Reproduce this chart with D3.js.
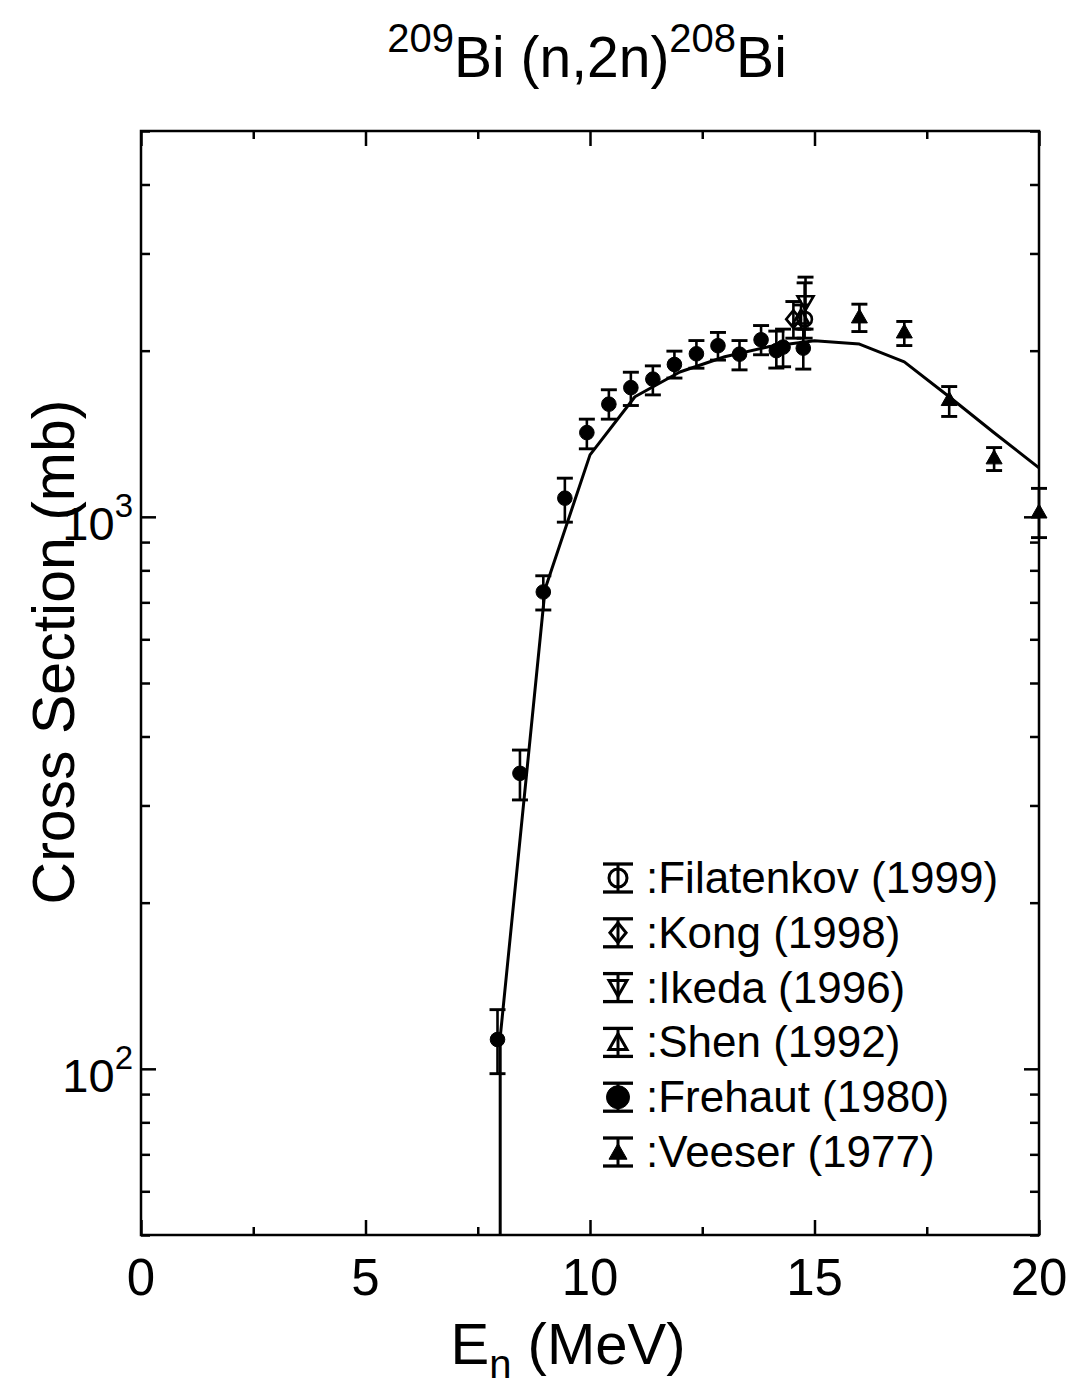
<!DOCTYPE html>
<html><head><meta charset="utf-8">
<script src="https://cdn.jsdelivr.net/npm/d3@7"></script>
<style>body{margin:0;background:#fff}text{font-family:"Liberation Sans",Arial,sans-serif;fill:#000}</style>
</head><body><svg id="c" width="1087" height="1387"></svg>
<script>
// ---- data ----
const curveE  = [8.0, 8.0, 9.0, 10.0, 11.0, 12.0, 13.0, 14.0, 15.0, 16.0, 17.0, 18.0, 19.0, 20.0];
const curveXS = [0.001, 114, 740, 1295, 1650, 1830, 1950, 2035, 2085, 2056, 1909, 1650, 1420, 1227];

const frehautE  = [7.94, 8.44, 8.96, 9.44, 9.93, 10.42, 10.91, 11.40, 11.88, 12.37, 12.85, 13.33, 13.81, 14.15, 14.30, 14.75];
const frehautXS = [113, 343, 731, 1081, 1421, 1600, 1714, 1776, 1888, 1974, 2042, 1971, 2093, 2000, 2030, 2021];
const frehautLo = [98, 307, 678, 978, 1328, 1503, 1591, 1663, 1784, 1859, 1923, 1846, 1966, 1860, 1870, 1852];
const frehautHi = [128, 378, 782, 1175, 1503, 1699, 1828, 1877, 1996, 2086, 2158, 2086, 2221, 2170, 2188, 2188];

const veeserE  = [16.0, 17.0, 18.0, 19.0, 20.0];
const veeserXS = [2306, 2166, 1634, 1281, 1022];
const veeserLo = [2166, 2043, 1520, 1213, 917];
const veeserHi = [2428, 2259, 1722, 1335, 1126];

const filatenkovE = [14.78], filatenkovXS = [2281], filatenkovLo = [2107], filatenkovHi = [2654];
const kongE = [14.53], kongXS = [2281], kongLo = [2107], kongHi = [2455];
const ikedaE = [14.8], ikedaXS = [2444], ikedaLo = [2188], ikedaHi = [2718];
const shenE = [14.7], shenXS = [2300], shenLo = [2190], shenHi = [2420];

const legendLabels = [":Filatenkov (1999)", ":Kong (1998)", ":Ikeda (1996)", ":Shen (1992)", ":Frehaut (1980)", ":Veeser (1977)"];
const legendSymbols = ["circleOpen", "diamondOpen", "triDownOpen", "triUpOpen", "circleFilled", "triUpFilled"];
const xMajorTicks = [0, 5, 10, 15, 20];
const xMinorTicks = [2.5, 7.5, 12.5, 17.5];
const yMajorTicks = [100, 1000];
const yMinorTicks = [50,60,70,80,90,200,300,400,500,600,700,800,900,2000,3000,4000,5000];
const yTickLabels = [["10","2"],["10","3"]];

// ---- drawing ----
const svg = d3.select("#c");
const x = d3.scaleLinear().domain([0,20]).range([141,1039]);
const y = d3.scaleLog().domain([50,5000]).range([1235,131]);
const [X0,X1] = x.range(), [Y1,Y0] = y.range();

svg.append("defs").append("clipPath").attr("id","clip")
  .append("rect").attr("x",X0).attr("y",Y0).attr("width",X1-X0).attr("height",Y1-Y0);

function styleAxis(g){ g.select(".domain").remove(); g.selectAll("line").attr("stroke","#000").attr("stroke-width",2.5); g.selectAll("text").remove(); }
svg.append("g").attr("transform",`translate(0,${Y1})`).call(d3.axisBottom(x).tickValues(xMajorTicks).tickSize(-15)).call(styleAxis);
svg.append("g").attr("transform",`translate(0,${Y1})`).call(d3.axisBottom(x).tickValues(xMinorTicks).tickSize(-8)).call(styleAxis);
svg.append("g").attr("transform",`translate(0,${Y0})`).call(d3.axisTop(x).tickValues(xMajorTicks).tickSize(-15)).call(styleAxis);
svg.append("g").attr("transform",`translate(0,${Y0})`).call(d3.axisTop(x).tickValues(xMinorTicks).tickSize(-8)).call(styleAxis);
svg.append("g").attr("transform",`translate(${X0},0)`).call(d3.axisLeft(y).tickValues(yMajorTicks).tickSize(-15)).call(styleAxis);
svg.append("g").attr("transform",`translate(${X0},0)`).call(d3.axisLeft(y).tickValues(yMinorTicks).tickSize(-9)).call(styleAxis);
svg.append("g").attr("transform",`translate(${X1},0)`).call(d3.axisRight(y).tickValues(yMajorTicks).tickSize(-15)).call(styleAxis);
svg.append("g").attr("transform",`translate(${X1},0)`).call(d3.axisRight(y).tickValues(yMinorTicks).tickSize(-9)).call(styleAxis);

svg.append("rect").attr("x",X0).attr("y",Y0).attr("width",X1-X0).attr("height",Y1-Y0)
  .attr("fill","none").attr("stroke","#000").attr("stroke-width",2.5);

// tick labels
svg.append("g").selectAll("text").data(xMajorTicks).join("text")
  .attr("x",d=>x(d)).attr("y",Y1+60).attr("text-anchor","middle").attr("font-size",51).text(d=>d);
const yl = svg.append("g").selectAll("text").data(yMajorTicks).join("text")
  .attr("x",X0-8).attr("y",d=>y(d)+23).attr("text-anchor","end").attr("font-size",47);
yl.append("tspan").text((d,i)=>yTickLabels[i][0]);
yl.append("tspan").attr("dy",-23).attr("font-size",33).text((d,i)=>yTickLabels[i][1]);

// curve
const line = d3.line().x(d=>x(d[0])).y(d=>y(Math.max(d[1],1)));
svg.append("path").datum(curveE.map((e,i)=>[e,curveXS[i]])).attr("clip-path","url(#clip)")
  .attr("d",line).attr("fill","none").attr("stroke","#000").attr("stroke-width",3).attr("stroke-linejoin","round");

// markers
function marker(g, type, cx, cy, s, sw){
  const open = type.endsWith("Open");
  let el;
  if(type.startsWith("circle")) el = g.append("circle").attr("cx",cx).attr("cy",cy).attr("r",s);
  else if(type.startsWith("diamond")) el = g.append("path").attr("d",`M${cx},${cy-s*1.1}L${cx+s*0.9},${cy}L${cx},${cy+s*1.1}L${cx-s*0.9},${cy}Z`);
  else if(type.startsWith("triDown")) el = g.append("path").attr("d",`M${cx-s},${cy-s*0.8}L${cx+s},${cy-s*0.8}L${cx},${cy+s*0.95}Z`);
  else el = g.append("path").attr("d",`M${cx-s},${cy+s*0.8}L${cx+s},${cy+s*0.8}L${cx},${cy-s*0.95}Z`);
  el.attr("fill", open?"none":"#000").attr("stroke","#000").attr("stroke-width", open?sw:1);
}
function errbar(g, cx, ylo, yhi, half, sw){
  g.append("line").attr("x1",cx).attr("x2",cx).attr("y1",ylo).attr("y2",yhi).attr("stroke","#000").attr("stroke-width",sw);
  [ylo,yhi].forEach(v=>g.append("line").attr("x1",cx-half).attr("x2",cx+half).attr("y1",v).attr("y2",v).attr("stroke","#000").attr("stroke-width",sw+0.3));
}
function series(E, XS, Lo, Hi, type, size){
  const g = svg.append("g");
  E.forEach((e,i)=>{ errbar(g, x(e), y(Lo[i]), y(Hi[i]), 8, 2.6); marker(g, type, x(e), y(XS[i]), size, 2.6); });
}
series(frehautE, frehautXS, frehautLo, frehautHi, "circleFilled", 7.3);
series(veeserE, veeserXS, veeserLo, veeserHi, "triUpFilled", 8);
series(shenE, shenXS, shenLo, shenHi, "triUpOpen", 8);
series(ikedaE, ikedaXS, ikedaLo, ikedaHi, "triDownOpen", 8);
series(kongE, kongXS, kongLo, kongHi, "diamondOpen", 8);
series(filatenkovE, filatenkovXS, filatenkovLo, filatenkovHi, "circleOpen", 7.3);

// legend
const lg = svg.append("g");
legendLabels.forEach((lab,i)=>{
  const cy = 878 + i*54.8, cx = 618;
  errbar(lg, cx, cy+14, cy-14, 15, 3);
  marker(lg, legendSymbols[i], cx, cy, legendSymbols[i]==="circleFilled"?11.5:9, 3);
  lg.append("text").attr("x",646).attr("y",cy+15).attr("font-size",44).text(lab);
});

// title
const t = svg.append("text").attr("x",587).attr("y",77).attr("text-anchor","middle").attr("font-size",57);
t.append("tspan").attr("font-size",40).attr("dy",-25).text("209");
t.append("tspan").attr("dy",25).text("Bi (n,2n)");
t.append("tspan").attr("font-size",40).attr("dy",-25).text("208");
t.append("tspan").attr("dy",25).text("Bi");

// axis labels
const xl = svg.append("text").attr("x",568).attr("y",1364).attr("text-anchor","middle").attr("font-size",58);
xl.append("tspan").text("E");
xl.append("tspan").attr("font-size",40).attr("dy",14).text("n");
xl.append("tspan").attr("dy",-14).text(" (MeV)");
svg.append("text").attr("transform","translate(74,652) rotate(-90)").attr("text-anchor","middle").attr("font-size",59).text("Cross Section (mb)");
</script></body></html>
